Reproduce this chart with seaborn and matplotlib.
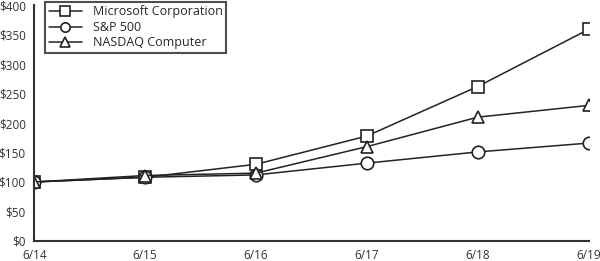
import matplotlib
matplotlib.use("Agg")
import matplotlib.pyplot as plt
import seaborn as sns
import pandas as pd

years = ["6/14", "6/15", "6/16", "6/17", "6/18", "6/19"]
microsoft = [100, 108, 130, 178, 262, 359]
sp500 = [100, 108, 112, 132, 151, 166]
nasdaq = [100, 111, 115, 160, 210, 230]
series_names = ["Microsoft Corporation", "S&P 500", "NASDAQ Computer"]
y_ticks = [0, 50, 100, 150, 200, 250, 300, 350, 400]

sns.set_style("white")
plt.rcParams["font.family"] = ["Open Sans", "DejaVu Sans"]

df = pd.DataFrame({
    "year": years * 3,
    "x": list(range(len(years))) * 3,
    "value": microsoft + sp500 + nasdaq,
    "series": [series_names[0]] * 6 + [series_names[1]] * 6 + [series_names[2]] * 6,
})

fig, ax = plt.subplots(figsize=(6.0, 2.61), dpi=100)
fig.subplots_adjust(left=0.057, right=0.981, top=0.98, bottom=0.077)

sns.lineplot(data=df, x="x", y="value", hue="series", style="series",
             palette=["#222222"] * 3, markers=["s", "o", "^"], dashes=False,
             markersize=9, markerfacecolor="white", markeredgecolor="#222222",
             markeredgewidth=1.2, linewidth=1.1, ax=ax, legend=True)

ax.set_xlim(0, 5)
ax.set_ylim(0, 400)
ax.set_xticks(range(len(years)))
ax.set_xticklabels(years)
ax.set_yticks(y_ticks)
ax.set_yticklabels([f"${v}" for v in y_ticks])
ax.set_xlabel("")
ax.set_ylabel("")
for s in ["top", "right"]:
    ax.spines[s].set_visible(False)
for s in ["left", "bottom"]:
    ax.spines[s].set_color("#333333")
    ax.spines[s].set_linewidth(1.5)
ax.tick_params(axis="x", direction="inout", length=8, width=1, colors="#333333",
               labelsize=8.5, labelcolor="#333333", pad=2)
ax.tick_params(axis="y", direction="out", length=4, width=1, colors="#333333",
               labelsize=8.5, labelcolor="#333333", pad=2)

leg = ax.legend(loc="upper left", bbox_to_anchor=(0.02, 1.015), frameon=True,
                fancybox=False, edgecolor="#222222", fontsize=9,
                handlelength=2.6, borderpad=0.3, labelspacing=0.2,
                markerscale=0.75, handletextpad=0.9, borderaxespad=0)
leg.get_frame().set_linewidth(1.5)

fig.savefig("out.png", dpi=100)
